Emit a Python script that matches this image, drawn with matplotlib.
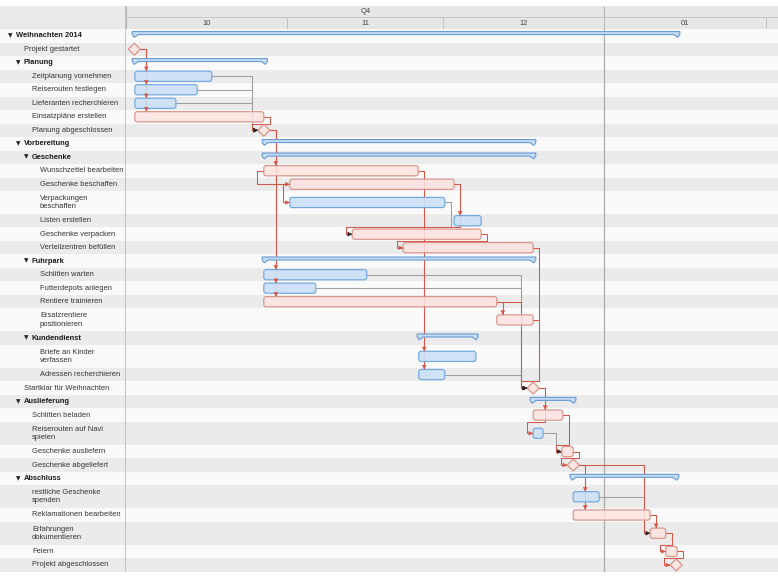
import numpy as np
import matplotlib
matplotlib.use("Agg")
import matplotlib.pyplot as plt
from matplotlib.patches import FancyBboxPatch, Polygon

plt.rcParams['font.family'] = ['Liberation Sans', 'DejaVu Sans']

# outline rows (top to bottom)
names = [
    "Weihnachten 2014", "Projekt gestartet", "Planung", "Zeitplanung vornehmen",
    "Reiserouten festlegen", "Lieferanten recherchieren", "Einsatzpläne erstellen",
    "Planung abgeschlossen", "Vorbereitung", "Geschenke", "Wunschzettel bearbeiten",
    "Geschenke beschaffen", "Verpackungen\nbeschaffen", "Listen erstellen",
    "Geschenke verpacken", "Verteilzentren befüllen", "Fuhrpark", "Schlitten warten",
    "Futterdepots anlegen", "Rentiere trainieren", "Ersatzrentiere\npositionieren",
    "Kundendienst", "Briefe an Kinder\nverfassen", "Adressen recherchieren",
    "Startklar für Weihnachten", "Auslieferung", "Schlitten beladen",
    "Reiserouten auf Navi\nspielen", "Geschenke ausliefern", "Geschenke abgeliefert",
    "Abschluss", "restliche Geschenke\nspenden", "Reklamationen bearbeiten",
    "Erfahrungen\ndokumentieren", "Feiern", "Projekt abgeschlossen",
]
depths = [0, 1, 1, 2, 2, 2, 2, 2, 1, 2, 3, 3, 3, 3, 3, 3, 2, 3, 3, 3, 3, 2, 3, 3,
          1, 1, 2, 2, 2, 2, 1, 2, 2, 2, 2, 2]
# g = group (summary), t = task, m = milestone
kinds = ["g", "m", "g", "t", "t", "t", "t", "m", "g", "g", "t", "t", "t", "t", "t", "t",
         "g", "t", "t", "t", "t", "g", "t", "t", "m", "g", "t", "t", "t", "m", "g", "t",
         "t", "t", "t", "m"]
# days after 1 Oct 2014
starts = [1.2, 1.6, 1.2, 1.7, 1.7, 1.7, 1.7, 26.5, 26.2, 26.2, 26.5, 31.5, 31.5, 63.1,
          43.5, 53.3, 26.2, 26.5, 26.5, 26.5, 71.3, 56.0, 56.3, 56.3, 78.3, 77.7, 78.3,
          78.3, 83.8, 86.0, 85.4, 86.0, 86.0, 100.8, 103.8, 105.8]
ends = [106.5, 1.6, 27.2, 16.5, 13.7, 9.6, 26.5, 26.5, 78.8, 78.8, 56.2, 63.1, 61.3, 68.3,
        68.3, 78.3, 78.8, 46.3, 36.5, 71.3, 78.3, 67.7, 67.3, 61.3, 78.3, 86.5, 84.0,
        80.2, 86.0, 86.0, 106.3, 91.0, 100.8, 103.8, 106.0, 105.8]
critical = [False, True, False, False, False, False, True, True, False, False, True, True,
            False, False, True, True, False, False, False, True, True, False, False, False,
            True, False, True, False, True, True, False, False, True, True, True, True]

# dependencies: predecessor row, successor row, link type
dep_from = [1, 1, 1, 1, 3, 4, 5, 6, 7, 7, 7, 7, 10, 11, 10, 10, 11, 11, 12, 14,
            15, 17, 18, 19, 19, 20, 23, 24, 24, 26, 27, 28, 29, 29, 29, 31, 32, 33, 34]
dep_to = [3, 4, 5, 6, 7, 7, 7, 7, 10, 17, 18, 19, 11, 12, 22, 23, 13, 14, 14, 15,
          24, 24, 24, 20, 24, 24, 24, 26, 27, 28, 28, 29, 31, 32, 33, 33, 33, 34, 35]
dep_type = ["fs"] * 12 + ["ss", "ss"] + ["fs"] * 25

quarters = ["Q4", ""]
quarter_start = [0, 92]
quarter_end = [92, 184]
months = ["10", "11", "12", "01"]
month_start = [0, 31, 61, 92]
month_end = [31, 61, 92, 123]

# layout in pixels
W, H = 778, 580
PX_DAY = 5.2
PX_ROW = 13.5
LEFT_W = 126
HDR_TOP, HDR_BOT = 6, 29

STRIPES = ["#fafafa", "#ebebeb"]
RED_LINE = "#d4574a"
GREY_LINE = "#9e9e9e"
BLUE_FACE = (0.80, 0.88, 0.97, 0.9)
BLUE_EDGE = "#72a8df"
RED_FACE = (0.99, 0.89, 0.88, 0.85)
RED_EDGE = "#d8958c"
SUM_FACE = "#c6dcf4"
SUM_EDGE = "#6c9fd6"


def dx(px):
    return px / PX_DAY


def dy(px):
    return px / PX_ROW


heights = np.array([1.7 if "\n" in n else 1.0 for n in names])
tops = np.concatenate([[0], np.cumsum(heights)[:-1]])
centers = tops + heights / 2
total = heights.sum()
rows_bot = HDR_BOT + total * PX_ROW
days_w = (W - LEFT_W) / PX_DAY

fig = plt.figure(figsize=(W / 100, H / 100), dpi=100)
ay = 1 - rows_bot / H
ah = (rows_bot - HDR_BOT) / H
left = fig.add_axes([0, ay, LEFT_W / W, ah])
ax = fig.add_axes([LEFT_W / W, ay, (W - LEFT_W) / W, ah])
hdr_l = fig.add_axes([0, 1 - HDR_BOT / H, LEFT_W / W, (HDR_BOT - HDR_TOP) / H])
hdr = fig.add_axes([LEFT_W / W, 1 - HDR_BOT / H, (W - LEFT_W) / W, (HDR_BOT - HDR_TOP) / H])

# row stripes
for i in range(len(names)):
    c = STRIPES[i % 2]
    left.axhspan(tops[i], tops[i] + heights[i], color=c, lw=0, zorder=0)
    ax.axhspan(tops[i], tops[i] + heights[i], color=c, lw=0, zorder=0)

# outline column
for i, n in enumerate(names):
    d = depths[i]
    if kinds[i] == "g":
        left.text(10 + 8 * d, centers[i], "▼", fontsize=4.2, family="DejaVu Sans",
                  ha="center", va="center", color="#222222")
        left.text(16 + 8 * d, centers[i], n, fontsize=5.4, fontweight="bold",
                  ha="left", va="center", color="#1a1a1a")
    else:
        left.text(16 + 8 * d, centers[i], n, fontsize=5.4, ha="left", va="center",
                  color="#333333", linespacing=1.25)
left.axvline(LEFT_W - 0.6, color="#c4c4c4", lw=0.8)
left.set_xlim(0, LEFT_W)
left.set_ylim(total, 0)
left.axis("off")

# year boundary
ax.axvline(92, color="#ababab", lw=0.9, zorder=1)

gap = dx(6)
bar_h = dy(10.2)
hw, hh = dx(6), dy(6)


def left_edge(i):
    return starts[i] - hw if kinds[i] == "m" else starts[i]


def right_edge(i):
    return ends[i] + hw if kinds[i] == "m" else ends[i]


# dependency lines
for p, s, t in zip(dep_from, dep_to, dep_type):
    red = critical[p]
    col = RED_LINE if red else GREY_LINE
    yp, ys = centers[p], centers[s]
    xs = left_edge(s)
    if t == "ss":
        x0 = starts[p]
        pts = [(x0, yp), (x0 - dx(7), yp), (x0 - dx(7), ys), (xs, ys)]
    else:
        xe = right_edge(p)
        xt = xe + gap
        if starts[s] > ends[p] and xs - gap >= xe + dx(1):
            pts = [(xe, yp), (xs - gap, yp), (xs - gap, ys), (xs, ys)]
        elif kinds[s] == "t" and starts[s] >= ends[p] - 0.05 and xs <= xt <= ends[s] - dx(8):
            pts = [(xe, yp), (xt, yp), (xt, ys - bar_h / 2)]
        else:
            yb = tops[s]
            pts = [(xe, yp), (xt, yp), (xt, yb), (xs - gap, yb), (xs - gap, ys), (xs, ys)]
    px_, py_ = zip(*pts)
    ax.plot(px_, py_, color=col, lw=0.75, zorder=2 if not red else 2.5)
    (x1, y1), (x2, y2) = pts[-2], pts[-1]
    ux = np.sign(x2 - x1) * dx(3)
    uy = np.sign(y2 - y1) * dy(3)
    ax.annotate("", xy=(x2, y2), xytext=(x2 - ux, y2 - uy), zorder=7 if not red else 6,
                arrowprops=dict(arrowstyle="-|>,head_length=0.5,head_width=0.25",
                                mutation_scale=5, color=RED_LINE if red else "#2a2a2a",
                                lw=0.5, shrinkA=0, shrinkB=0))

# bars, summaries, milestones
for i in range(len(names)):
    yc = centers[i]
    s, e = starts[i], ends[i]
    if kinds[i] == "t":
        face, edge = (RED_FACE, RED_EDGE) if critical[i] else (BLUE_FACE, BLUE_EDGE)
        ax.add_patch(FancyBboxPatch((s, yc - bar_h / 2), e - s, bar_h,
                                    boxstyle=f"round,pad=0,rounding_size={dx(2.5)}",
                                    mutation_aspect=PX_DAY / PX_ROW,
                                    fc=face, ec=edge, lw=0.85, zorder=4))
    elif kinds[i] == "g":
        top, bot, tip = yc - dy(4.2), yc - dy(1.2), yc + dy(1.6)
        pts = [(s, top), (e, top), (e, bot), (e - dx(2), tip), (e - dx(6), bot),
               (s + dx(6), bot), (s + dx(2), tip), (s, bot)]
        ax.add_patch(Polygon(pts, closed=True, fc=SUM_FACE, ec=SUM_EDGE, lw=0.85,
                             joinstyle="round", zorder=4))
    else:
        pts = [(s - hw, yc), (s, yc - hh), (s + hw, yc), (s, yc + hh)]
        ax.add_patch(Polygon(pts, closed=True, fc="#fbe6e2", ec="#d58c80", lw=0.8,
                             zorder=5))

ax.set_xlim(0, days_w)
ax.set_ylim(total, 0)
ax.axis("off")

# timeline header
hh_px = HDR_BOT - HDR_TOP
for a in (hdr, hdr_l):
    a.set_facecolor("#e6e6e6")
    a.set_ylim(hh_px, 0)
    a.set_xticks([])
    a.set_yticks([])
    for sp in a.spines.values():
        sp.set_visible(False)
hdr_l.set_facecolor("#eaeaea")
hdr_l.set_xlim(0, LEFT_W)
hdr_l.axhline(hh_px - 0.5, color="#c4c4c4", lw=0.8)
hdr_l.axvline(LEFT_W - 0.6, color="#c4c4c4", lw=0.8)

hdr.set_xlim(0, days_w)
hdr.axhline(11, color="#c8c8c8", lw=0.7)
hdr.axhline(hh_px - 0.5, color="#c4c4c4", lw=0.8)
for q, qs, qe in zip(quarters, quarter_start, quarter_end):
    hdr.vlines(qs, 0, hh_px, color="#b4b4b4", lw=0.8)
    if q:
        hdr.text((qs + qe) / 2, 5.6, q, fontsize=5.4, ha="center", va="center",
                 color="#444444")
for m, ms, me in zip(months, month_start, month_end):
    hdr.vlines(me, 11, hh_px, color="#c0c0c0", lw=0.7)
    hdr.text((ms + me) / 2, 17.2, m, fontsize=5.4, ha="center", va="center",
             color="#444444")

fig.savefig("out.png", dpi=100)
